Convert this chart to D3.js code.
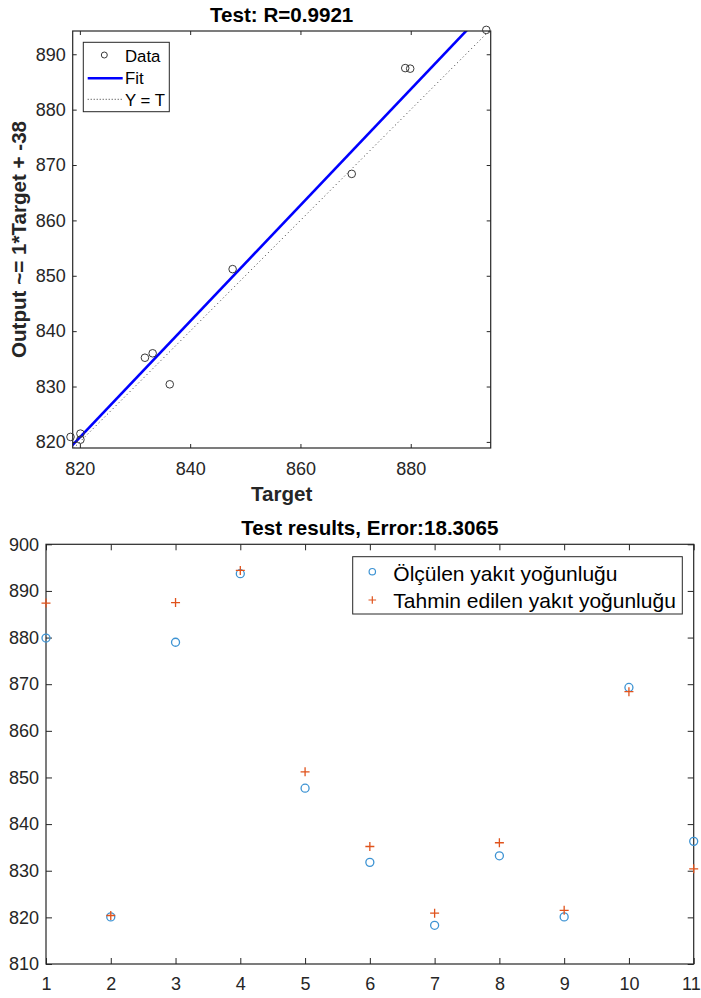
<!DOCTYPE html>
<html>
<head>
<meta charset="utf-8">
<script src="https://cdn.jsdelivr.net/npm/d3@7"></script>
<style>
  html, body { margin: 0; padding: 0; background: #fff; }
  svg { display: block; font-family: "Liberation Sans", Arial, Helvetica, sans-serif; }
  .tick text { fill: #262626; }
</style>
</head>
<body>
<svg id="chart" width="701" height="998"></svg>
<script>
// ---------------- DATA ----------------
const sampleIndex = [1, 2, 3, 4, 5, 6, 7, 8, 9, 10, 11];
const measured  = [879.9, 820.1, 879.0, 893.7, 847.7, 831.8, 818.3, 833.2, 820.1, 869.3, 836.3];
const predicted = [887.4, 820.4, 887.5, 894.4, 851.2, 835.2, 820.9, 836.0, 821.5, 868.4, 830.4];

const topTitle = "Test: R=0.9921";
const topYLabel = "Output ~= 1*Target + -38";
const topXLabel = "Target";
const topXTicks = [820, 840, 860, 880];
const topYTicks = [820, 830, 840, 850, 860, 870, 880, 890];
const topXDomain = [818.7, 894.5];
const topYDomain = [818.9, 894.2];
const topLegend = ["Data", "Fit", "Y = T"];

const bottomTitle = "Test results, Error:18.3065";
const bottomXTicks = [1, 2, 3, 4, 5, 6, 7, 8, 9, 10, 11];
const bottomYTicks = [810, 820, 830, 840, 850, 860, 870, 880, 890, 900];
const bottomXDomain = [1, 11];
const bottomYDomain = [810, 900];
const bottomLegend = ["Ölçülen yakıt yoğunluğu", "Tahmin edilen yakıt yoğunluğu"];

// ---------------- STYLE ----------------
const AX = "#262626";
const TICK_FS = 18;
const LABEL_FS = 20.6;
const BLUE = "#3d93d3";
const RED = "#e0531c";

const svg = d3.select("#chart");

// ---------- helper: MATLAB-like boxed axes ----------
function boxAxes(g, x, y, xt, yt, tickLen, padX, padY) {
  const [x0, x1] = x.range();
  const [y0, y1] = y.range(); // y0 bottom, y1 top
  const xg = g.append("g").attr("transform", `translate(0,${y0})`)
    .call(d3.axisBottom(x).tickValues(xt).tickFormat(d3.format("d")).tickSizeInner(-tickLen).tickSizeOuter(0).tickPadding(padX))
    .call(s => s.select(".domain").remove());
  g.append("g").attr("transform", `translate(${x0},0)`)
    .call(d3.axisLeft(y).tickValues(yt).tickFormat(d3.format("d")).tickSizeInner(-tickLen).tickSizeOuter(0).tickPadding(padY))
    .call(s => s.select(".domain").remove());
  g.append("g").attr("transform", `translate(0,${y1})`)
    .call(d3.axisTop(x).tickValues(xt).tickFormat("").tickSizeInner(-tickLen).tickSizeOuter(0))
    .call(s => s.select(".domain").remove());
  g.append("g").attr("transform", `translate(${x1},0)`)
    .call(d3.axisRight(y).tickValues(yt).tickFormat("").tickSizeInner(-tickLen).tickSizeOuter(0))
    .call(s => s.select(".domain").remove());
  g.selectAll(".tick line").attr("stroke", AX).attr("stroke-width", 1);
  g.selectAll(".tick text").attr("font-size", TICK_FS).attr("font-family", "Liberation Sans, Arial, sans-serif").attr("fill", AX);
  g.append("rect").attr("x", x0).attr("y", y1).attr("width", x1 - x0).attr("height", y0 - y1)
    .attr("fill", "none").attr("stroke", AX).attr("stroke-width", 1.2);
  return xg;
}

// ================= TOP: regression plot =================
const tL = 72.7, tR = 490.7, tT = 31, tB = 448;
const xT = d3.scaleLinear().domain(topXDomain).range([tL, tR]);
const yT = d3.scaleLinear().domain(topYDomain).range([tB, tT]);
const gTop = svg.append("g");

// least-squares fit computed from the data
const mT = d3.mean(measured), mY = d3.mean(predicted);
const sxy = d3.sum(measured.map((t, i) => (t - mT) * (predicted[i] - mY)));
const sxx = d3.sum(measured.map(t => (t - mT) ** 2));
const slope = sxy / sxx, intercept = mY - slope * mT;
const lo = d3.min(measured.concat(predicted)), hi = d3.max(measured.concat(predicted));

svg.append("defs").append("clipPath").attr("id", "clipTop")
  .append("rect").attr("x", tL).attr("y", tT).attr("width", tR - tL).attr("height", tB - tT);

const plotTop = gTop.append("g").attr("clip-path", "url(#clipTop)");
// Y = T dotted
plotTop.append("line")
  .attr("x1", xT(lo)).attr("y1", yT(lo)).attr("x2", xT(hi)).attr("y2", yT(hi))
  .attr("stroke", "#333").attr("stroke-width", 1).attr("stroke-dasharray", "1,3");
// fit line
const fx0 = topXDomain[0] - 5, fx1 = topXDomain[1] + 5;
plotTop.append("line")
  .attr("x1", xT(fx0)).attr("y1", yT(slope * fx0 + intercept))
  .attr("x2", xT(fx1)).attr("y2", yT(slope * fx1 + intercept))
  .attr("stroke", "#0000ff").attr("stroke-width", 2.6);

boxAxes(gTop, xT, yT, topXTicks, topYTicks, 4, 14, 7);

// data circles (not clipped)
gTop.append("g").selectAll("circle").data(measured).join("circle")
  .attr("cx", d => xT(d)).attr("cy", (d, i) => yT(predicted[i])).attr("r", 3.8)
  .attr("fill", "none").attr("stroke", "#3a3a3a").attr("stroke-width", 1);

// title / labels
gTop.append("text").attr("x", (tL + tR) / 2).attr("y", 22).attr("text-anchor", "middle")
  .attr("font-size", LABEL_FS).attr("font-weight", "bold").attr("fill", "#000").text(topTitle);
gTop.append("text").attr("x", (tL + tR) / 2).attr("y", 501).attr("text-anchor", "middle")
  .attr("font-size", LABEL_FS).attr("font-weight", "bold").attr("fill", AX).text(topXLabel);
gTop.append("text").attr("transform", `translate(26,${(tT + tB) / 2}) rotate(-90)`).attr("text-anchor", "middle")
  .attr("font-size", LABEL_FS).attr("font-weight", "bold").attr("fill", AX).text(topYLabel);

// legend
const lg = gTop.append("g");
lg.append("rect").attr("x", 83.3).attr("y", 42.3).attr("width", 86).attr("height", 69.4)
  .attr("fill", "#fff").attr("stroke", AX).attr("stroke-width", 1);
lg.append("circle").attr("cx", 104.3).attr("cy", 55).attr("r", 3).attr("fill", "none").attr("stroke", "#3a3a3a").attr("stroke-width", 1);
lg.append("line").attr("x1", 87.7).attr("x2", 122.7).attr("y1", 78.3).attr("y2", 78.3).attr("stroke", "#0000ff").attr("stroke-width", 2.6);
lg.append("line").attr("x1", 87.7).attr("x2", 122.7).attr("y1", 99.3).attr("y2", 99.3).attr("stroke", "#333").attr("stroke-width", 1).attr("stroke-dasharray", "1,2");
lg.selectAll("text.lt").data(topLegend).join("text").attr("class", "lt")
  .attr("x", 125).attr("y", (d, i) => 61.5 + i * 22.2).attr("font-size", 16.8).attr("fill", "#000").text(d => d);

// ================= BOTTOM: test results =================
const bL = 46, bR = 693.7, bT = 544.3, bB = 964;
const xB = d3.scaleLinear().domain(bottomXDomain).range([bL, bR]);
const yB = d3.scaleLinear().domain(bottomYDomain).range([bB, bT]);
const gBot = svg.append("g");

const xAxisBot = boxAxes(gBot, xB, yB, bottomXTicks, bottomYTicks, 6, 13, 7);
// keep the last x label inside the page (reference has it right at the edge)
xAxisBot.selectAll(".tick text").filter(d => d === bottomXDomain[1])
  .attr("text-anchor", "end").attr("dx", 6.5);

gBot.append("text").attr("x", (bL + bR) / 2).attr("y", 535).attr("text-anchor", "middle")
  .attr("font-size", LABEL_FS).attr("font-weight", "bold").attr("fill", "#000").text(bottomTitle);

const plusPath = r => `M${-r},0H${r}M0,${-r}V${r}`;

gBot.append("g").selectAll("circle").data(measured).join("circle")
  .attr("cx", (d, i) => xB(sampleIndex[i])).attr("cy", d => yB(d)).attr("r", 4)
  .attr("fill", "none").attr("stroke", BLUE).attr("stroke-width", 1.3);
gBot.append("g").selectAll("path").data(predicted).join("path")
  .attr("transform", (d, i) => `translate(${xB(sampleIndex[i])},${yB(d)})`)
  .attr("d", plusPath(4.5)).attr("fill", "none").attr("stroke", RED).attr("stroke-width", 1.3);

// legend
const lb = gBot.append("g");
lb.append("rect").attr("x", 352.7).attr("y", 556.7).attr("width", 329.6).attr("height", 57.3)
  .attr("fill", "#fff").attr("stroke", AX).attr("stroke-width", 1);
lb.append("circle").attr("cx", 372.3).attr("cy", 571.7).attr("r", 3.2).attr("fill", "none").attr("stroke", BLUE).attr("stroke-width", 1.2);
lb.append("path").attr("transform", "translate(372.3,600)").attr("d", plusPath(3.8)).attr("fill", "none").attr("stroke", RED).attr("stroke-width", 1.2);
lb.selectAll("text.lb").data(bottomLegend).join("text").attr("class", "lb")
  .attr("x", 393.3).attr("y", (d, i) => 581 + i * 27).attr("font-size", 21).attr("fill", "#000").text(d => d);
</script>
</body>
</html>
